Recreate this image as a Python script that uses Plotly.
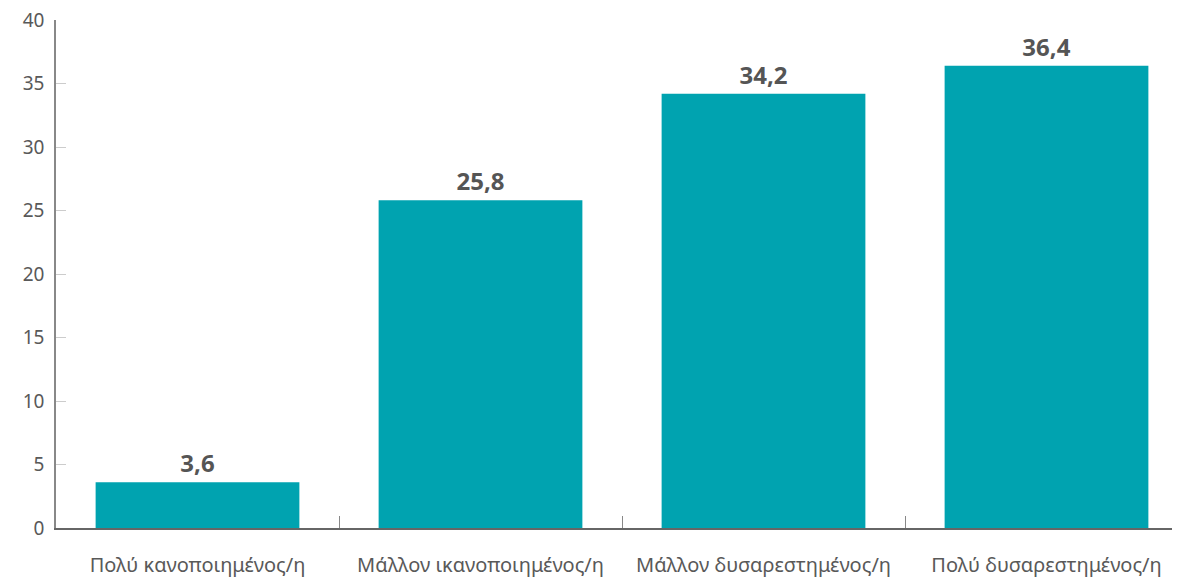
import plotly.graph_objects as go

categories = ["Πολύ κανοποιημένος/η", "Μάλλον ικανοποιημένος/η", "Μάλλον δυσαρεστημένος/η", "Πολύ δυσαρεστημένος/η"]
values = [3.6, 25.8, 34.2, 36.4]
y_ticks = [0, 5, 10, 15, 20, 25, 30, 35, 40]

FONT = "Noto Sans"

fig = go.Figure(go.Bar(
    x=categories,
    y=values,
    marker=dict(color="#00A3B0", line=dict(width=0)),
    width=0.72,
    text=values,
    texttemplate="%{y:.1f}",
    textposition="outside",
    textfont=dict(family=FONT, size=24, color="#555555", weight="bold"),
    cliponaxis=False,
))

fig.update_layout(
    width=1180, height=580,
    margin=dict(l=48, r=0, t=12, b=60, autoexpand=False),
    paper_bgcolor="white", plot_bgcolor="white",
    separators=",.",
    showlegend=False,
    font=dict(family=FONT, color="#595959"),
    xaxis=dict(
        range=[-0.5, 3.5],
        showline=True, linecolor="#666666", linewidth=1.5,
        ticks="inside", tickson="boundaries", ticklen=12, tickcolor="#888888",
        tickfont=dict(family=FONT, size=20, color="#595959"),
        ticklabelstandoff=18,
        ticklabeloverflow="allow",
        showgrid=False, automargin=False,
    ),
    yaxis=dict(
        range=[0, 40],
        tickvals=y_ticks,
        showline=True, linecolor="#888888", linewidth=1.5,
        ticks="inside", ticklen=10, tickcolor="#cccccc",
        tickfont=dict(family=FONT, size=19, color="#595959"),
        ticklabelstandoff=6,
        ticklabeloverflow="allow",
        showgrid=False, zeroline=False, automargin=False,
    ),
)

fig.write_html("out.html")
